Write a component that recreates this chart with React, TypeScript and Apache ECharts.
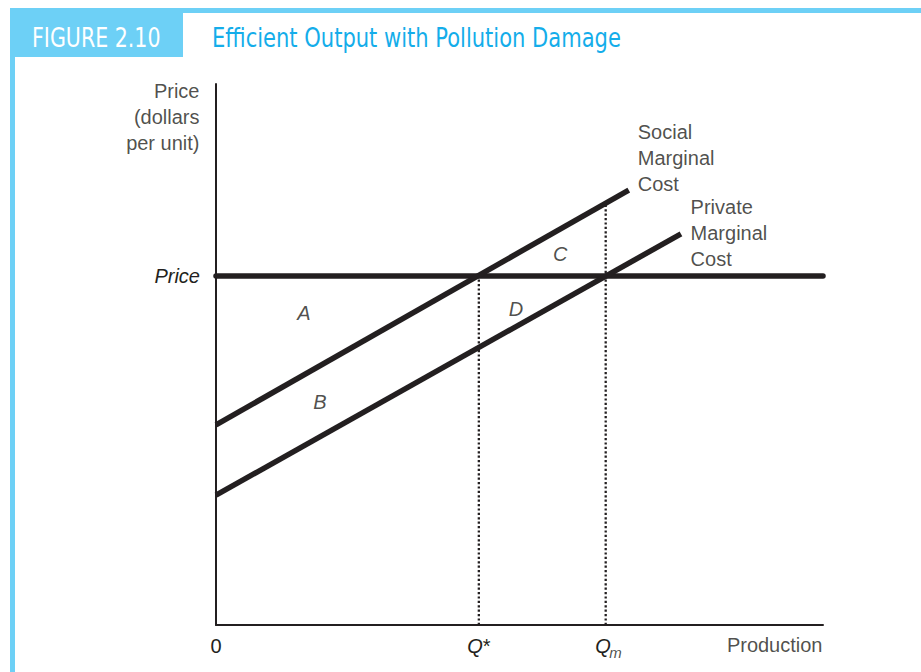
import React, { useEffect, useRef } from "react";
import * as echarts from "echarts";

// ---- data ----
const X_MAX = 100;
const Y_MAX = 100;
const PRICE = 64.5;
const PRICE_LINE_X = [0, 100];
const SMC_X = [0, 68];
const SMC_Y = [37, 80.4];
const PMC_X = [0, 76.6];
const PMC_Y = [24, 72.3];
const Q_STAR = 43.3;
const Q_M = 64.2;
const SMC_AT_QM = 78;
const X_TICKS = [0, Q_STAR, Q_M];
const X_TICK_LABELS = ["{n|0}", "{i|Q}{n|*}", "{i|Q}{n| }"];
const X_SUBSCRIPT = "m";
const Y_TICKS = [PRICE];
const Y_TICK_LABELS = ["Price"];
const AREA_NAMES = ["A", "B", "C", "D"];
const AREA_X = [14.5, 17.1, 56.7, 49.4];
const AREA_Y = [57.7, 41.2, 68.6, 58.4];
const CURVE_NAMES = ["Social\nMarginal\nCost", "Private\nMarginal\nCost"];
const CURVE_LABEL_X = [69.4, 78.1];
const CURVE_LABEL_Y = [86.3, 72.5];
const Y_TITLE = "Price\n(dollars\nper unit)";
const Y_TITLE_Y = 93.9;
const X_TITLE = "Production";
const FIG_NUM = "FIGURE 2.10";
const FIG_TITLE = "Efficient Output with Pollution Damage";

const INK = "#231f20";
const BLUE_LIGHT = "#6dd0f6";
const BLUE_TEXT = "#14adea";
const FONT = "'Liberation Sans', Arial, Helvetica, sans-serif";
const NARROW = "'Liberation Sans Narrow', 'DejaVu Sans Condensed', 'Roboto', sans-serif";

export default function App() {
  const ref = useRef<HTMLDivElement>(null);
  useEffect(() => {
    if (!ref.current) return;
    const chart = echarts.init(ref.current, undefined, { renderer: "svg" });
    const lineStyle = (w: number) => ({ color: INK, width: w, type: "solid" as const, cap: "butt" as const });
    const dotted = { color: INK, width: 2.3, type: [2.2, 2.2], cap: "butt" as const };
    const annotations: any[] = [];
    AREA_NAMES.forEach((n, i) => {
      annotations.push({
        value: [AREA_X[i], AREA_Y[i]],
        label: { show: true, formatter: n, position: "inside", align: "center", verticalAlign: "middle", fontStyle: "italic" },
      });
    });
    CURVE_NAMES.forEach((n, i) => {
      annotations.push({
        value: [CURVE_LABEL_X[i], CURVE_LABEL_Y[i]],
        label: { show: true, formatter: n, position: "right", distance: 0, lineHeight: 26 },
      });
    });
    annotations.push({
      value: [0, Y_TITLE_Y],
      label: { show: true, formatter: Y_TITLE, position: "left", distance: 16, lineHeight: 26, align: "right" },
    });
    annotations.push({
      value: [X_MAX, 0],
      label: { show: true, formatter: X_TITLE, position: [0, 20], align: "right", verticalAlign: "middle" },
    });
    annotations.push({
      value: [Q_M, 0],
      label: {
        show: true, formatter: X_SUBSCRIPT, position: [4, 28], align: "left", verticalAlign: "middle",
        fontStyle: "italic", fontSize: 15,
      },
    });

    chart.setOption({
      animation: false,
      backgroundColor: "#ffffff",
      textStyle: { fontFamily: FONT, color: INK, fontSize: 20 },
      grid: { left: 216, right: 98, top: 84, bottom: 47, containLabel: false, outerBoundsMode: "none" },
      graphic: [
        { type: "rect", shape: { x: 10, y: 8, width: 911, height: 5 }, style: { fill: BLUE_LIGHT }, silent: true },
        { type: "rect", shape: { x: 10, y: 8, width: 173, height: 49 }, style: { fill: BLUE_LIGHT }, silent: true },
        { type: "rect", shape: { x: 10, y: 8, width: 5, height: 664 }, style: { fill: BLUE_LIGHT }, silent: true },
        {
          type: "text", x: 32, y: 38, scaleX: 0.88, silent: true,
          style: { text: FIG_NUM, fill: "#ffffff", font: `26px ${NARROW}`, verticalAlign: "middle" },
        },
        {
          type: "text", x: 212, y: 38, scaleX: 0.9, silent: true,
          style: { text: FIG_TITLE, fill: BLUE_TEXT, font: `26px ${NARROW}`, verticalAlign: "middle" },
        },
      ],
      xAxis: {
        type: "value", min: 0, max: X_MAX,
        axisLine: { show: true, lineStyle: { color: INK, width: 2 } },
        axisTick: { show: false },
        splitLine: { show: false },
        axisLabel: {
          show: true, customValues: X_TICKS, margin: 11, color: INK, fontSize: 20, fontFamily: FONT,
          formatter: (v: number) => {
            const i = X_TICKS.findIndex((t) => Math.abs(t - v) < 1e-6);
            return i >= 0 ? X_TICK_LABELS[i] : "";
          },
          rich: {
            i: { fontStyle: "italic", fontSize: 20, fontFamily: FONT, color: INK },
            n: { fontSize: 20, fontFamily: FONT, color: INK },
          },
        },
      },
      yAxis: {
        type: "value", min: 0, max: Y_MAX,
        axisLine: { show: true, lineStyle: { color: INK, width: 2 } },
        axisTick: { show: false },
        splitLine: { show: false },
        axisLabel: {
          show: true, customValues: Y_TICKS, margin: 16, color: INK, fontSize: 20, fontStyle: "italic", fontFamily: FONT,
          formatter: (v: number) => {
            const i = Y_TICKS.findIndex((t) => Math.abs(t - v) < 1e-6);
            return i >= 0 ? Y_TICK_LABELS[i] : "";
          },
        },
      },
      series: [
        {
          type: "line", name: "Price", clip: false, symbol: "none", silent: true,
          data: PRICE_LINE_X.map((x) => [x, PRICE]),
          lineStyle: { ...lineStyle(5.5), cap: "round" },
        },
        {
          type: "line", name: "Social Marginal Cost", clip: false, symbol: "none", silent: true,
          data: SMC_X.map((x, i) => [x, SMC_Y[i]]),
          lineStyle: lineStyle(5.5),
        },
        {
          type: "line", name: "Private Marginal Cost", clip: false, symbol: "none", silent: true,
          data: PMC_X.map((x, i) => [x, PMC_Y[i]]),
          lineStyle: lineStyle(5.5),
        },
        {
          type: "line", name: "Q*", clip: false, symbol: "none", silent: true,
          data: [[Q_STAR, 0], [Q_STAR, PRICE]],
          lineStyle: dotted,
        },
        {
          type: "line", name: "Qm", clip: false, symbol: "none", silent: true,
          data: [[Q_M, 0], [Q_M, SMC_AT_QM]],
          lineStyle: dotted,
        },
        {
          type: "scatter", name: "labels", silent: true, symbolSize: 1, clip: false,
          itemStyle: { color: "rgba(0,0,0,0)" },
          label: { show: true, color: INK, fontSize: 20, fontFamily: FONT },
          data: annotations,
        },
      ],
    });
    return () => chart.dispose();
  }, []);
  return (
    <div
      ref={ref}
      style={{ position: "fixed", left: 0, top: 0, width: 921, height: 672, background: "#fff" }}
    />
  );
}
